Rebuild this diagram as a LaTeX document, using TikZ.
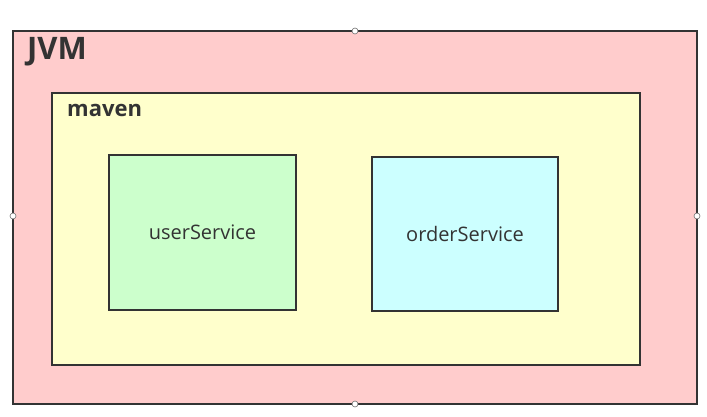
\documentclass[tikz,border=0pt]{standalone}
\usepackage{fontspec}
\setmainfont{Open Sans}
\definecolor{jvmfill}{HTML}{FFCCCC}
\definecolor{mavenfill}{HTML}{FFFFCC}
\definecolor{userfill}{HTML}{CCFFCC}
\definecolor{orderfill}{HTML}{CCFFFF}
\definecolor{edge}{HTML}{333333}
\begin{document}
\begin{tikzpicture}[x=1pt,y=-1pt,
  box/.style={draw=edge,line width=2.7pt},
  handle/.style={circle,draw=edge!70,fill=white,line width=0.6pt,inner sep=0pt,minimum size=6pt},
  lbl/.style={text=edge,inner sep=0pt,anchor=base west}]
\useasboundingbox (0,0) rectangle (707,417);
\fill[white] (0,0) rectangle (707,417);
\draw[box,fill=jvmfill] (13,31) rectangle (697,404);
\draw[box,fill=mavenfill] (52,93) rectangle (640,365);
\node[box,fill=userfill,minimum width=187pt,minimum height=155pt,inner sep=0pt,font=\fontsize{20}{24}\selectfont,text=edge] (user) at (202.5,232.5) {userService};
\node[box,fill=orderfill,minimum width=186pt,minimum height=154pt,inner sep=0pt,font=\fontsize{20}{24}\selectfont,text=edge] (order) at (465,234) {orderService};
\node[lbl,font=\bfseries\fontsize{31}{36}\selectfont] (jvm) at (27,60) {JVM};
\node[lbl,font=\bfseries\fontsize{22}{26}\selectfont] (maven) at (67,117) {maven};
\node[handle] (h1) at (355,31) {};
\node[handle] (h2) at (13,216) {};
\node[handle] (h3) at (697,216) {};
\node[handle] (h4) at (355,404) {};
\end{tikzpicture}
\end{document}
